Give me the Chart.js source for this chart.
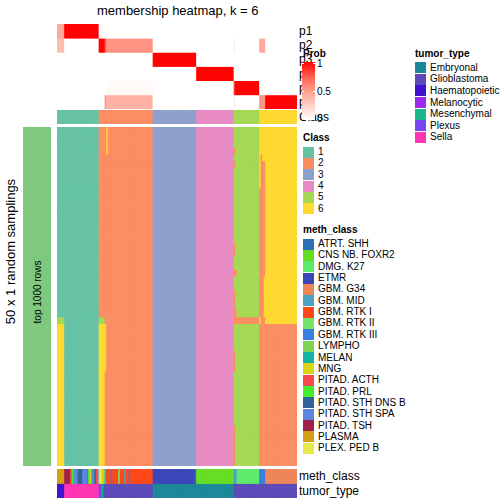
<!DOCTYPE html>
<html>
<head>
<meta charset="utf-8">
<script src="https://cdn.jsdelivr.net/npm/chart.js@4.4.1/dist/chart.umd.min.js"></script>
<style>
body { margin: 0; width: 504px; height: 504px; position: relative; background: #fff; overflow: hidden;
       font-family: "Liberation Sans", Arial, sans-serif; color: #000; }
canvas { position: absolute; }
.t { position: absolute; white-space: nowrap; line-height: 1; }
</style>
</head>
<body>
<canvas id="probChart"></canvas>
<canvas id="classChart"></canvas>
<canvas id="mainChart"></canvas>
<canvas id="annoChart"></canvas>
<div id="labels"></div>
<script>
// column groups (samples ordered as in the picture), 160 columns in total
const groupCols  = [5, 23, 4, 1, 31, 29, 25, 1, 16, 4, 21];
const groupClass = [1, 1, 2, 2, 2, 3, 4, 5, 5, 6, 6];
const p1 = [0.45, 1, 0, 0, 0, 0, 0, 0, 0, 0, 0];
const p2 = [0.35, 0, 1, 0.75, 0.55, 0, 0, 0.1, 0, 0.45, 0];
const p3 = [0, 0, 0, 0, 0, 1, 0, 0, 0, 0, 0];
const p4 = [0, 0, 0, 0, 0, 0, 1, 0, 0, 0, 0];
const p5 = [0, 0, 0, 0, 0.03, 0, 0, 0.9, 1, 0.02, 0];
const p6 = [0, 0, 0, 0.55, 0.4, 0, 0, 0.1, 0, 0.55, 1];

// 50 random samplings: class changes [colFrom, colTo, rowFrom, rowTo, class]
const nRows = 50;
const switches = [
  [0, 4, 28, 28, 5], [0, 4, 29, 49, 6],
  [28, 31, 28, 28, 5], [28, 31, 29, 49, 6], [32, 32, 29, 35, 6],
  [33, 33, 0, 3, 6],
  [118, 118, 3, 3, 2], [118, 118, 5, 5, 2], [118, 118, 17, 18, 2], [118, 119, 21, 21, 2],
  [118, 118, 24, 26, 2], [118, 119, 27, 27, 2], [118, 134, 28, 28, 2],
  [118, 118, 33, 35, 2], [118, 118, 44, 49, 2],
  [136, 136, 4, 27, 2], [137, 137, 5, 27, 2], [138, 138, 5, 21, 2], [135, 135, 9, 27, 2],
  [136, 138, 28, 28, 2], [135, 159, 29, 49, 2]
];

// annotations as runs [label, number of columns]
const methRuns = [
  ['PLASMA', 5], ['PITAD. TSH', 4], ['PITAD. ACTH', 1], ['PITAD. PRL', 1], ['GBM. MID', 1],
  ['PITAD. STH SPA', 2], ['PITAD. STH DNS B', 3], ['PITAD. STH SPA', 3], ['GBM. RTK III', 1],
  ['PITAD. PRL', 1], ['MNG', 1], ['GBM. MID', 1], ['PITAD. STH SPA', 1], ['PITAD. STH DNS B', 1],
  ['PITAD. ACTH', 1], ['PITAD. STH SPA', 1],
  ['PLEX. PED B', 2], ['MNG', 1],
  ['GBM. RTK II', 1], ['GBM. MID', 1], ['GBM. RTK I', 3], ['GBM. RTK III', 1], ['GBM. RTK I', 4],
  ['GBM. RTK II', 1], ['GBM. RTK I', 3], ['GBM. MID', 1], ['GBM. RTK I', 2], ['GBM. RTK III', 1],
  ['GBM. RTK I', 15],
  ['ETMR', 28], ['ATRT. SHH', 1], ['CNS NB. FOXR2', 25], ['GBM. MID', 2], ['DMG. K27', 15],
  ['GBM. RTK III', 4], ['GBM. G34', 21]
];
const tumorRuns = [
  ['Haematopoietic', 5], ['Sella', 23], ['Plexus', 2], ['Mesenchymal', 1], ['Glioblastoma', 33],
  ['Embryonal', 54], ['Glioblastoma', 42]
];

const classNames = ['1', '2', '3', '4', '5', '6'];
const classColors = ['#66C2A5', '#FC8D62', '#8DA0CB', '#E78AC3', '#A6D854', '#FFD92F'];
const methNames = ['ATRT. SHH', 'CNS NB. FOXR2', 'DMG. K27', 'ETMR', 'GBM. G34', 'GBM. MID', 'GBM. RTK I',
  'GBM. RTK II', 'GBM. RTK III', 'LYMPHO', 'MELAN', 'MNG', 'PITAD. ACTH', 'PITAD. PRL',
  'PITAD. STH DNS B', 'PITAD. STH SPA', 'PITAD. TSH', 'PLASMA', 'PLEX. PED B'];
const methColors = ['#2C6FB4', '#66DD22', '#5CEA6A', '#3B45B9', '#EE8558', '#4AA2BF', '#FF4719',
  '#74E46C', '#3A7EE0', '#7ED450', '#13B3A8', '#DDD514', '#F84849', '#44EE2A',
  '#2F6396', '#5E84DC', '#A1204B', '#D4A013', '#E7E84A'];
const tumorNames = ['Embryonal', 'Glioblastoma', 'Haematopoietic', 'Melanocytic', 'Mesenchymal', 'Plexus', 'Sella'];
const tumorColors = ['#1B8799', '#5D4AB8', '#4211D0', '#9B2AF0', '#16B88C', '#7846EE', '#FF35B1'];

function probColor(p) {
  const g = Math.round(255 * Math.pow(1 - p, 0.7));
  const b = Math.round(255 * Math.pow(1 - p, 0.85));
  return `rgb(255,${g},${b})`;
}
function expand(groupVals) {
  const out = [];
  groupVals.forEach((v, i) => { for (let k = 0; k < groupCols[i]; k++) out.push(v); });
  return out;
}
function expandRuns(runs, names, colors) {
  const out = [];
  runs.forEach(([lab, n]) => { for (let k = 0; k < n; k++) out.push(colors[names.indexOf(lab)]); });
  return out;
}

function heat(id, left, top, w, h, rows) {
  const cv = document.getElementById(id);
  cv.style.left = left + 'px';
  cv.style.top = top + 'px';
  cv.width = w;
  cv.height = h;
  new Chart(cv, {
    type: 'bar',
    data: {
      labels: rows[0].map((_, i) => i),
      datasets: rows.map(r => ({
        data: r.map(() => 1),
        backgroundColor: r,
        borderWidth: 0,
        barPercentage: 1,
        categoryPercentage: 1
      }))
    },
    options: {
      responsive: false,
      animation: false,
      layout: { padding: 0 },
      plugins: { legend: { display: false }, tooltip: { enabled: false } },
      scales: {
        x: { display: false, stacked: true },
        y: { display: false, stacked: true, reverse: true, min: 0, max: rows.length }
      }
    }
  });
}

// probability rows
heat('probChart', 57, 24, 240, 85, [p1, p2, p3, p4, p5, p6].map(p => expand(p).map(probColor)));
// class row
const colClass = expand(groupClass);
heat('classChart', 57, 110, 240, 14, [colClass.map(c => classColors[c - 1])]);
// main membership matrix
const matrix = [];
for (let r = 0; r < nRows; r++) matrix.push(colClass.slice());
switches.forEach(([c0, c1, r0, r1, cl]) => {
  for (let r = r0; r <= r1; r++) for (let c = c0; c <= c1; c++) matrix[r][c] = cl;
});
heat('mainChart', 57, 127, 240, 339, matrix.map(row => row.map(c => classColors[c - 1])));
// annotation rows
heat('annoChart', 57, 469, 240, 29, [
  expandRuns(methRuns, methNames, methColors),
  expandRuns(tumorRuns, tumorNames, tumorColors)
]);

// text and legends
const L = document.getElementById('labels');
function txt(s, x, y, size, extra) {
  const d = document.createElement('div');
  d.className = 't';
  d.textContent = s;
  d.style.left = x + 'px';
  d.style.top = (y - size / 2) + 'px';
  d.style.fontSize = size + 'px';
  if (extra) Object.assign(d.style, extra);
  L.appendChild(d);
  return d;
}
function box(x, y, w, h, bg) {
  const d = document.createElement('div');
  d.style.cssText = `position:absolute;left:${x}px;top:${y}px;width:${w}px;height:${h}px;background:${bg}`;
  L.appendChild(d);
}

txt('membership heatmap, k = 6', 97, 10, 13);
['p1', 'p2', 'p3', 'p4', 'p5', 'p6'].forEach((s, i) => txt(s, 299, 31 + i * 14.2, 12));
txt('Class', 299, 117, 12);
txt('meth_class', 299, 476, 12);
txt('tumor_type', 299, 491, 12);

// left side
box(23, 127, 28, 339, '#7FC97F');
txt('50 x 1 random samplings', -62, 251, 13, { width: 144, textAlign: 'center', transform: 'rotate(-90deg)' });
txt('top 1000 rows', 7, 292, 10, { width: 64, textAlign: 'center', transform: 'rotate(-90deg)' });

// Prob colour bar
txt('Prob', 303, 54, 10, { fontWeight: 'bold' });
box(302, 62, 13, 58, 'linear-gradient(to bottom,' + [1, 0.75, 0.5, 0.25, 0].map(probColor).join(',') + ')');
box(302, 63, 2, 1, '#fff'); box(313, 63, 2, 1, '#fff');
box(302, 91, 2, 1, '#fff'); box(313, 91, 2, 1, '#fff');
txt('1', 317, 63.5, 10);
txt('0.5', 317, 92, 10);
txt('0', 317, 118.5, 10);

// Class legend
txt('Class', 303, 138, 10, { fontWeight: 'bold' });
classNames.forEach((s, i) => {
  const cy = 152 + i * 11.35;
  box(303, cy - 5.5, 11, 11, classColors[i]);
  txt(s, 318, cy, 10);
});

// meth_class legend
txt('meth_class', 303, 230, 10, { fontWeight: 'bold' });
methNames.forEach((s, i) => {
  const cy = 244 + i * 11.35;
  box(303, cy - 5.5, 11, 11, methColors[i]);
  txt(s, 318, cy, 10);
});

// tumor_type legend
txt('tumor_type', 415, 54, 10, { fontWeight: 'bold' });
tumorNames.forEach((s, i) => {
  const cy = 67.7 + i * 11.6;
  box(415, cy - 5.5, 11, 11, tumorColors[i]);
  txt(s, 430, cy, 10);
});
</script>
</body>
</html>
